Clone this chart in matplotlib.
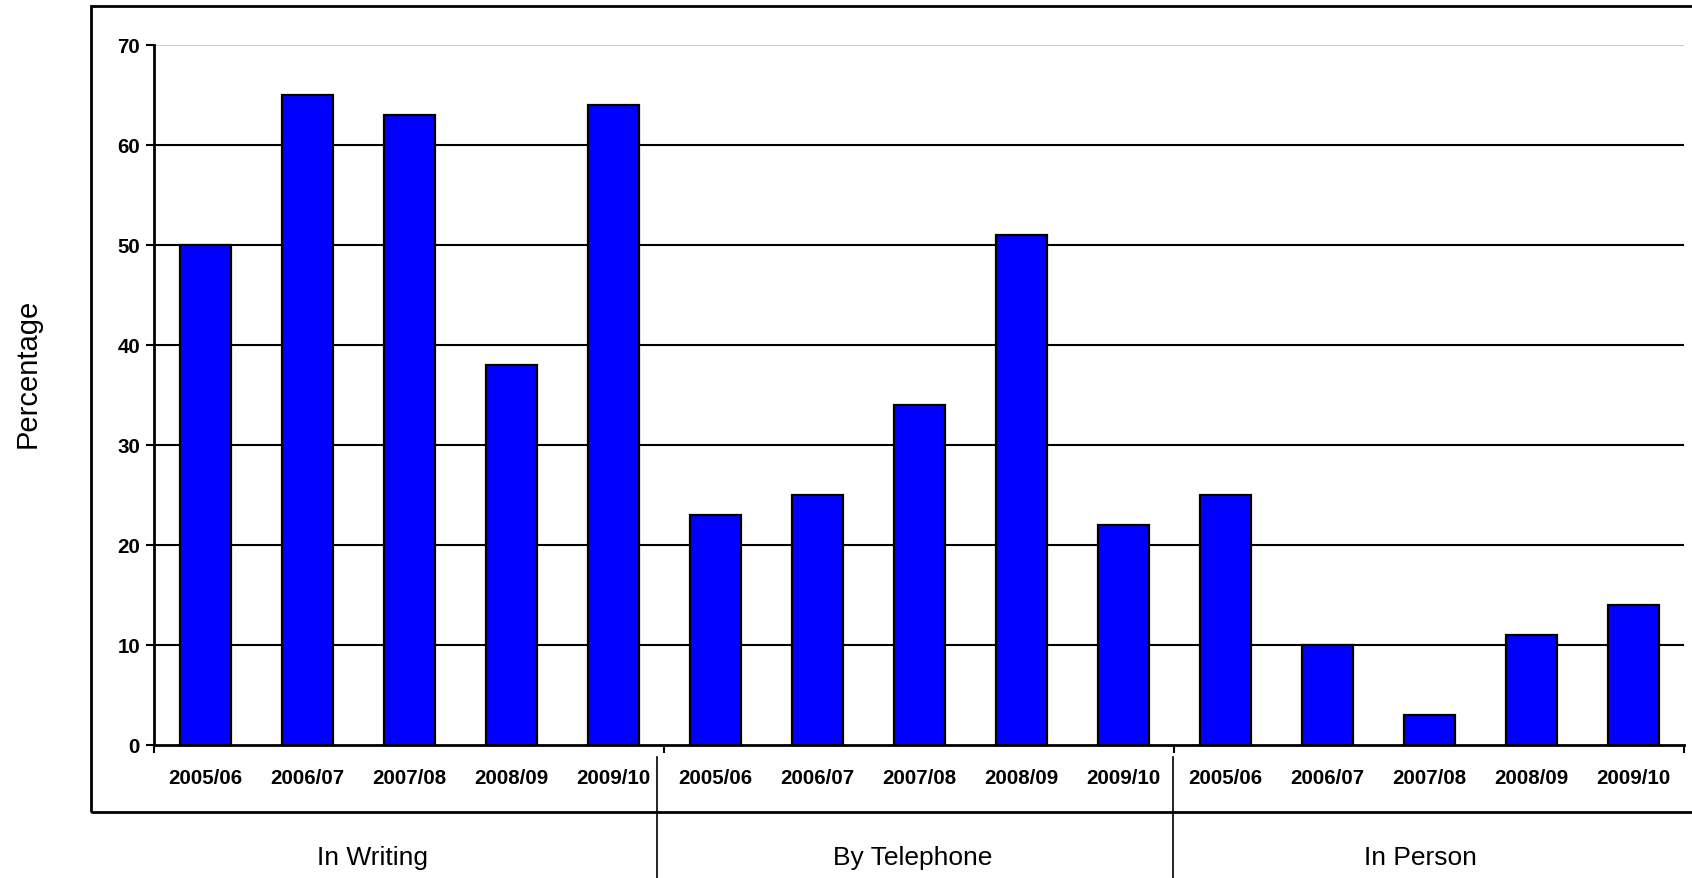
import matplotlib
matplotlib.use("Agg")
import matplotlib.pyplot as plt
from matplotlib.patches import Rectangle
from matplotlib.lines import Line2D
from matplotlib.ticker import FixedLocator

plt.rcParams["font.family"] = ["Liberation Sans", "DejaVu Sans"]

years = ["2005/06", "2006/07", "2007/08", "2008/09", "2009/10"]
groups = ["In Writing", "By Telephone", "In Person"]
in_writing = [50, 65, 63, 38, 64]
by_telephone = [23, 25, 34, 51, 22]
in_person = [25, 10, 3, 11, 14]

W, H = 1692, 878
fig = plt.figure(figsize=(W / 100 + 0.001, H / 100 + 0.001), dpi=100)

# plot area in pixels
left, right, top, bottom = 154, 1684, 45, 745
ax = fig.add_axes([left / W, 1 - bottom / H, (right - left) / W, (bottom - top) / H])

values = in_writing + by_telephone + in_person
labels = years * len(groups)
xs = [i + 0.5 for i in range(len(values))]

ax.bar(xs, values, width=0.5, color="#0000ff", edgecolor="black", linewidth=1.6, zorder=3)

ax.set_xlim(0, len(values))
ax.set_ylim(0, 70)

# horizontal gridlines, the top one light grey
for y in range(10, 70, 10):
    ax.axhline(y, color="black", linewidth=1.5, zorder=1)
ax.axhline(70, color="#c0c0c0", linewidth=1.2, zorder=1)

ax.set_yticks(range(0, 80, 10))
ax.set_yticklabels([str(v) for v in range(0, 80, 10)], fontsize=14.8, fontweight="bold")
ax.tick_params(axis="y", length=6, width=1.5, pad=4, color="black")

ax.set_xticks(xs)
ax.set_xticklabels(labels, fontsize=14.8, fontweight="bold")
ax.tick_params(axis="x", which="major", length=0, pad=17)
ax.xaxis.set_minor_locator(FixedLocator([0, 5, 10, 15]))
ax.tick_params(axis="x", which="minor", length=6, width=1.5, color="black")

for s in ["top", "right"]:
    ax.spines[s].set_visible(False)
for s in ["left", "bottom"]:
    ax.spines[s].set_linewidth(2)
    ax.spines[s].set_zorder(4)

fig.text(28 / W, 1 - 373 / H, "Percentage", rotation=90, fontsize=21,
         ha="center", va="center")

# outer chart frame, running off the right edge
fig.add_artist(Rectangle((91 / W, 1 - 812 / H), 1.1, (812 - 6) / H,
                         transform=fig.transFigure, fill=False,
                         edgecolor="black", linewidth=2, clip_on=False))

# group separators below the year labels
for sx in [657, 1173]:
    fig.add_artist(Line2D([sx / W, sx / W], [1 - 757 / H, 0],
                          transform=fig.transFigure, color="black", linewidth=1.2))

group_centers = [372, 913, 1420]
for gx, name in zip(group_centers, groups):
    fig.text(gx / W, 1 - 858 / H, name, fontsize=19, ha="center", va="center")

fig.savefig("out.png", dpi=100)
